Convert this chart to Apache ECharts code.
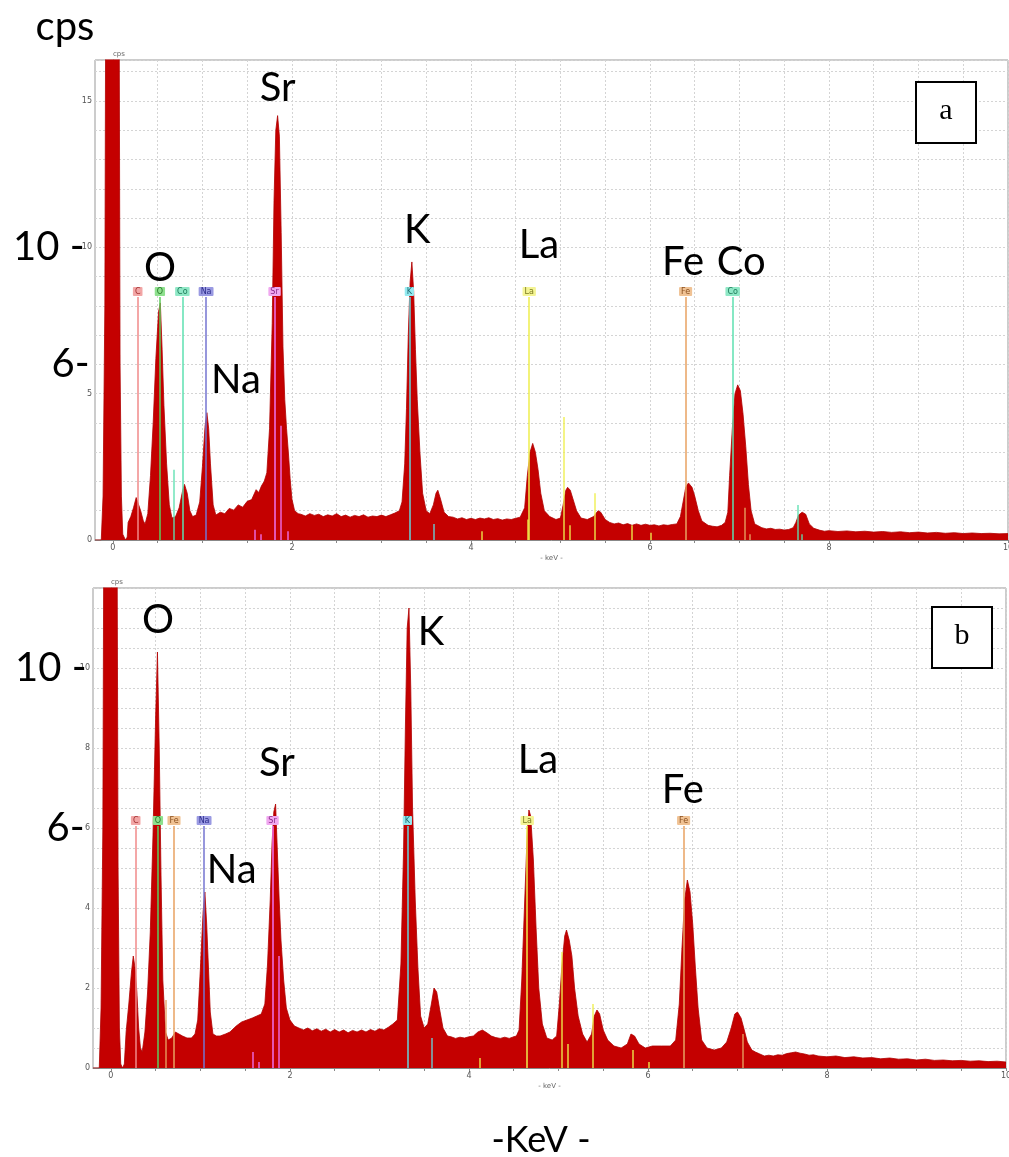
<!DOCTYPE html>
<html><head><meta charset="utf-8">
<script src="https://cdn.jsdelivr.net/npm/echarts@6/dist/echarts.min.js"></script>
<style>html,body{margin:0;padding:0;background:#fff}#c{width:1009px;height:1157px}</style>
</head><body><div id="c"></div>
<script>
// ---------- Spectrum (a) ----------
const energyA = [-0.2,-0.13,-0.11,-0.09,-0.07,-0.04,0,0.04,0.06,0.08,0.095,0.11,0.14,0.16,0.17,0.2,0.23,0.26,0.28,0.31,0.34,0.36,0.39,0.42,0.45,0.48,0.51,0.53,0.55,0.57,0.6,0.63,0.66,0.7,0.74,0.78,0.8,0.83,0.86,0.89,0.93,0.97,1,1.03,1.05,1.07,1.09,1.12,1.15,1.2,1.25,1.3,1.35,1.4,1.45,1.5,1.55,1.6,1.63,1.66,1.69,1.72,1.75,1.78,1.8,1.82,1.84,1.86,1.88,1.9,1.92,1.94,1.96,1.98,2,2.03,2.07,
2.1,2.15,2.2,2.25,2.3,2.35,2.4,2.45,2.5,2.55,2.6,2.65,2.7,2.75,2.8,2.85,2.9,2.95,3,3.05,3.1,3.15,
3.2,3.23,3.26,3.28,3.3,3.32,3.34,3.36,3.38,3.4,3.43,3.46,3.5,3.54,3.58,3.61,3.63,3.66,3.7,3.75,
3.8,3.85,3.9,3.95,4,4.05,4.1,4.15,4.2,4.25,4.3,4.35,4.4,4.45,4.5,
4.55,4.6,4.63,4.66,4.69,4.72,4.75,4.78,4.82,4.88,4.95,5,5.03,5.06,5.08,5.11,5.14,5.18,5.23,5.3,5.37,5.42,5.45,5.5,
5.55,5.6,5.65,5.7,5.75,5.8,5.85,5.9,5.95,6,6.05,6.1,6.15,6.2,6.25,
6.3,6.34,6.37,6.4,6.43,6.47,6.5,6.54,6.58,6.65,6.7,6.75,6.8,6.84,6.87,6.89,6.92,6.95,6.98,7.01,7.04,7.07,7.1,7.13,7.17,7.25,7.3,7.35,7.4,7.45,7.5,7.55,7.6,7.63,7.66,7.7,7.74,7.78,7.83,
7.9,7.95,8,8.1,8.2,8.3,8.4,8.5,8.6,8.7,8.8,8.9,9,9.1,9.2,9.3,9.4,9.5,9.6,9.7,9.8,9.9,10];
const countsA = [0,0,1.5,8,30,80,100,80,30,6,1.5,0.2,0,0.1,0.6,0.8,1.1,1.45,1.4,1.0,0.65,0.55,0.9,2.2,4.0,6.2,7.8,8.1,6.5,4.6,2.6,1.2,0.75,0.8,1.1,1.7,1.9,1.6,1.0,0.8,0.85,1.3,2.5,3.9,4.35,3.8,2.6,1.2,0.85,0.95,0.9,1.08,1.02,1.2,1.12,1.32,1.38,1.72,1.62,1.85,2.0,2.3,3.8,7.4,11.6,14.0,14.5,13.8,10.5,6.6,4.8,3.8,3.0,2.1,1.4,1.0,0.9,
0.88,0.82,0.9,0.84,0.88,0.8,0.86,0.82,0.9,0.8,0.85,0.78,0.84,0.8,0.86,0.78,0.82,0.8,0.85,0.8,0.86,0.92,
1.0,1.3,2.6,4.5,7.0,8.8,9.5,8.5,6.5,4.8,3.0,1.6,1.0,0.9,1.2,1.6,1.7,1.4,0.95,0.8,
0.78,0.72,0.76,0.7,0.74,0.7,0.75,0.72,0.76,0.7,0.73,0.68,0.72,0.7,0.74,
0.78,1.1,2.2,3.0,3.3,3.0,2.4,1.6,1.0,0.8,0.7,0.75,1.2,1.7,1.8,1.7,1.4,1.0,0.75,0.7,0.8,1.0,0.95,0.7,
0.6,0.55,0.58,0.52,0.56,0.5,0.55,0.5,0.54,0.5,0.52,0.48,0.52,0.5,0.53,
0.55,0.8,1.3,1.8,1.95,1.8,1.5,1.0,0.65,0.5,0.47,0.45,0.5,0.6,0.95,2.2,3.8,5.0,5.3,5.1,4.3,3.2,1.9,1.0,0.55,0.42,0.38,0.4,0.36,0.37,0.34,0.36,0.42,0.6,0.85,0.95,0.88,0.55,0.4,
0.33,0.3,0.32,0.29,0.31,0.28,0.3,0.27,0.29,0.26,0.28,0.25,0.27,0.24,0.26,0.23,0.25,0.22,0.24,0.22,0.23,0.21,0.22];

// ---------- Spectrum (b) ----------
const energyB = [-0.2,-0.13,-0.11,-0.09,-0.07,-0.04,0,0.04,0.06,0.08,0.095,0.11,0.13,0.15,0.17,0.2,0.23,0.25,0.27,0.29,0.31,0.33,0.35,0.38,0.41,0.44,0.47,0.5,0.52,0.54,0.56,0.58,0.61,0.64,0.68,0.72,0.76,0.8,0.85,0.9,0.94,0.97,1,1.03,1.05,1.07,1.09,1.11,1.14,1.18,1.22,1.28,1.33,1.4,1.46,1.52,1.58,1.63,1.68,1.72,1.75,1.78,1.8,1.82,1.84,1.86,1.88,1.9,1.93,1.96,2,2.05,
2.1,2.15,2.2,2.25,2.3,2.35,2.4,2.45,2.5,2.55,2.6,2.65,2.7,2.75,2.8,2.85,2.9,2.95,3,3.05,3.1,3.15,
3.2,3.24,3.27,3.29,3.31,3.33,3.35,3.37,3.4,3.43,3.46,3.5,3.54,3.58,3.61,3.64,3.67,3.71,3.76,
3.8,3.85,3.9,3.95,4,4.05,4.1,4.15,4.2,4.25,4.3,4.35,4.4,4.45,4.5,4.53,
4.56,4.59,4.62,4.65,4.67,4.69,4.72,4.75,4.78,4.82,4.87,4.93,4.98,5.01,5.04,5.07,5.09,5.12,5.15,5.18,5.22,5.27,5.32,5.37,5.4,5.43,5.46,5.5,5.55,5.62,5.7,5.77,5.81,5.85,5.9,5.97,6.05,6.15,6.25,6.31,
6.35,6.38,6.41,6.44,6.47,6.5,6.53,6.56,6.6,6.66,6.74,6.82,6.88,6.93,6.97,7,7.04,7.07,7.11,7.16,
7.2,7.25,7.3,7.35,7.4,7.45,7.5,7.55,7.6,7.65,7.7,7.75,7.8,7.85,7.9,
8,8.1,8.2,8.3,8.4,8.5,8.6,8.7,8.8,8.9,9,9.1,9.2,9.3,9.4,9.5,9.6,9.7,9.8,9.9,10];
const countsB = [0,0,1.5,6,20,60,80,60,20,5,1,0.1,0,0.1,0.9,1.6,2.4,2.8,2.5,1.9,1.0,0.5,0.4,0.9,1.9,3.4,5.8,8.8,10.4,8.0,4.8,2.2,0.9,0.7,0.75,0.9,0.85,0.8,0.75,0.75,0.85,1.2,2.5,3.9,4.4,3.6,2.5,1.4,0.85,0.8,0.8,0.85,0.9,1.05,1.15,1.2,1.25,1.3,1.35,1.6,2.6,4.2,5.6,6.4,6.6,5.4,4.2,3.2,2.2,1.5,1.2,1.05,
1.0,0.95,1.0,0.93,0.98,0.92,0.97,0.9,0.96,0.9,0.95,0.88,0.94,0.9,0.95,0.9,0.96,0.92,0.98,0.95,1.02,1.1,
1.2,2.6,5.5,8.5,11.0,11.5,9.5,6.5,4.2,2.5,1.3,1.0,1.1,1.6,2.0,1.9,1.5,1.0,0.8,
0.78,0.74,0.77,0.75,0.78,0.8,0.9,0.95,0.88,0.8,0.76,0.74,0.77,0.74,0.78,0.8,
0.95,2.2,4.0,5.8,6.45,6.3,5.2,3.5,2.0,1.1,0.75,0.7,0.8,1.6,2.6,3.3,3.45,3.2,2.8,2.0,1.3,0.85,0.65,0.85,1.3,1.45,1.35,0.95,0.7,0.55,0.5,0.6,0.85,0.8,0.6,0.5,0.55,0.55,0.55,0.7,
1.6,3.0,4.2,4.7,4.4,3.6,2.5,1.5,0.7,0.5,0.45,0.5,0.65,1.0,1.35,1.4,1.25,1.0,0.65,0.45,
0.4,0.35,0.3,0.32,0.3,0.33,0.32,0.36,0.38,0.4,0.37,0.35,0.32,0.33,0.3,
0.28,0.3,0.26,0.28,0.25,0.26,0.23,0.25,0.22,0.23,0.2,0.22,0.19,0.2,0.18,0.19,0.17,0.18,0.16,0.17,0.15];

// ---------- Element identification lines ----------
const elementsA = ['C','O','Co','Na','Sr','K','La','Fe','Co'];
const elementEnergiesA = [0.277,0.525,0.776,1.041,1.806,3.312,4.651,6.398,6.924];
const elementsB = ['C','O','Fe','Na','Sr','K','La','Fe'];
const elementEnergiesB = [0.277,0.525,0.705,1.041,1.806,3.312,4.651,6.398];

const minorElementsA = ['Co','Sr','Sr','Sr','Sr','K','La','La','La','La','La','La','La','Fe','Fe','Co','Co'];
const minorEnergiesA = [0.678,1.58,1.65,1.872,1.95,3.59,4.12,4.63,5.04,5.10,5.38,5.80,6.01,7.06,7.11,7.65,7.70];
const minorHeightsA  = [2.4,0.35,0.2,3.9,0.3,0.55,0.3,0.7,4.2,0.5,1.6,0.5,0.25,1.1,0.2,1.2,0.2];
const minorElementsB = ['Fe','Sr','Sr','Sr','K','La','La','La','La','La','La','Fe'];
const minorEnergiesB = [0.61,1.58,1.65,1.872,3.59,4.12,5.04,5.10,5.38,5.83,6.01,7.06];
const minorHeightsB  = [1.7,0.4,0.15,2.8,0.75,0.25,2.9,0.6,1.6,0.45,0.15,0.85];

// ---------- Big annotation labels ----------
const bigLabelsA = ['Sr','O','Na','K','La','Fe','Co'];
const bigLabelsB = ['O','K','Sr','Na','La','Fe'];

// ---------- Axis ticks / labels ----------
const xTickValues = [0,0.5,1,1.5,2,2.5,3,3.5,4,4.5,5,5.5,6,6.5,7,7.5,8,8.5,9,9.5,10];
const xLabelValues = [0,2,4,6,8,10];
const yLabelStepA = 5;
const yLabelStepB = 2;

// ---------- styling ----------
const elemStyle = {
  C:  {line:'#f08a8a', bg:'#f2a6a6', fg:'#a03030'},
  O:  {line:'#5ccc5c', bg:'#8ee08e', fg:'#2a7a2a'},
  Co: {line:'#5ee0b0', bg:'#8fe8c6', fg:'#1f7a5a'},
  Na: {line:'#7474d0', bg:'#9a9ae2', fg:'#2a2a8a'},
  Sr: {line:'#f070f0', bg:'#f0a8f0', fg:'#8a2a8a'},
  K:  {line:'#66d4dc', bg:'#94eaf0', fg:'#1f6a70'},
  La: {line:'#eeee4c', bg:'#f4f494', fg:'#7a7a20'},
  Fe: {line:'#e8a262', bg:'#f0c294', fg:'#8a5020'}
};
const bigFont = 'Lato, "Open Sans", sans-serif';

const annotA = [
  {t:bigLabelsA[0], c:[1.84,15.43]}, {t:bigLabelsA[1], c:[0.525,9.28]}, {t:bigLabelsA[2], c:[1.374,5.46]},
  {t:bigLabelsA[3], c:[3.40,10.58]}, {t:bigLabelsA[4], c:[4.76,10.07]}, {t:bigLabelsA[5], c:[6.37,9.49]}, {t:bigLabelsA[6], c:[7.02,9.49]}
];
const annotB = [
  {t:bigLabelsB[0], c:[0.525,11.2]}, {t:bigLabelsB[1], c:[3.575,10.9]}, {t:bigLabelsB[2], c:[1.855,7.63]},
  {t:bigLabelsB[3], c:[1.35,4.95]}, {t:bigLabelsB[4], c:[4.77,7.7]}, {t:bigLabelsB[5], c:[6.39,6.95]}
];

function zip(xs, ys){ const n=Math.min(xs.length, ys.length); const o=[]; for(let i=0;i<n;i++) o.push([xs[i],ys[i]]); return o; }

function majorLines(names, energies, top){
  return names.map((n,i)=>{
    const s = elemStyle[n];
    return [
      {coord:[energies[i],0], lineStyle:{color:s.line, width:1.5, type:'solid'}},
      {coord:[energies[i],top], label:{show:true, position:'end', distance:1, formatter:n,
        fontSize:8, fontFamily:'DejaVu Sans, sans-serif', color:s.fg, backgroundColor:s.bg,
        padding:[1,2,0,2], borderRadius:1}}
    ];
  });
}
function minorLines(names, energies, heights){
  return names.map((n,i)=>{
    const s = elemStyle[n];
    return [
      {coord:[energies[i],0], lineStyle:{color:s.line, width:1.5, type:'solid', opacity:0.9}},
      {coord:[energies[i],heights[i]]}
    ];
  });
}
function bigMarks(annots, sideLabels){
  const pts = annots.map(a=>({coord:a.c, symbol:'circle', symbolSize:1,
    itemStyle:{color:'rgba(0,0,0,0)'},
    label:{show:true, position:'inside', formatter:a.t, fontSize:40, fontFamily:bigFont, color:'#000'}}));
  sideLabels.forEach(s=>pts.push({coord:[-0.2,s.v], symbol:'circle', symbolSize:1,
    itemStyle:{color:'rgba(0,0,0,0)'},
    label:{show:true, position:'left', distance:s.d, formatter:s.t, fontSize:40, fontFamily:bigFont, color:'#000'}}));
  return pts;
}

function xAxisCfg(gi){
  return {
    type:'value', gridIndex:gi, min:-0.2, max:10,
    name:'- keV -', nameLocation:'middle', nameGap:15,
    nameTextStyle:{fontSize:7, color:'#666', fontFamily:'DejaVu Sans, sans-serif'},
    axisLine:{show:true, onZero:false, lineStyle:{color:'#888', width:1}},
    axisTick:{show:true, customValues:xTickValues, length:3, lineStyle:{color:'#888'}},
    axisLabel:{show:true, customValues:xLabelValues, fontSize:8, color:'#555', margin:4, fontFamily:'DejaVu Sans, sans-serif'},
    splitLine:{show:true, lineStyle:{color:'#d4d4d4', type:[2,2], width:1}}
  };
}
function yAxisCfg(gi, max, interval, step){
  return {
    type:'value', gridIndex:gi, min:0, max:max, interval:interval,
    name:'cps', nameLocation:'end', nameGap:2,
    nameTextStyle:{fontSize:7, color:'#666', align:'left', fontFamily:'DejaVu Sans, sans-serif'},
    axisLine:{show:true, lineStyle:{color:'#888', width:1}},
    axisTick:{show:true, length:4, lineStyle:{color:'#888'}},
    axisLabel:{fontSize:8, color:'#555', margin:3, fontFamily:'DejaVu Sans, sans-serif',
      formatter:v=> (Math.abs(v/step - Math.round(v/step))<1e-6 && v<=max-0.5) ? String(v) : ''},
    splitLine:{show:true, lineStyle:{color:'#d4d4d4', type:[2,2], width:1}}
  };
}

const red = '#c40000';
const option = {
  animation:false,
  backgroundColor:'#fff',
  grid:[
    {left:95, top:60, width:913, height:480, show:true, borderColor:'#999', borderWidth:1, backgroundColor:'#fff', outerBoundsMode:'none', containLabel:false},
    {left:93, top:588, width:913, height:480, show:true, borderColor:'#999', borderWidth:1, backgroundColor:'#fff', outerBoundsMode:'none', containLabel:false}
  ],
  xAxis:[xAxisCfg(0), xAxisCfg(1)],
  yAxis:[yAxisCfg(0, 16.4, 1, yLabelStepA), yAxisCfg(1, 12, 0.5, yLabelStepB)],
  series:[
    {type:'line', xAxisIndex:0, yAxisIndex:0, data:zip(energyA,countsA), showSymbol:false, symbol:'none',
      lineStyle:{color:'#b00000', width:0.8}, areaStyle:{color:red, opacity:1}, z:2,
      markLine:{silent:true, symbol:['none','none'], data:majorLines(elementsA, elementEnergiesA, 8.3)},
      markPoint:{silent:true, data:bigMarks(annotA, [{v:10,t:'10 -',d:10},{v:6,t:'6-',d:5}])}},
    {type:'line', xAxisIndex:0, yAxisIndex:0, data:[], z:3,
      markLine:{silent:true, symbol:['none','none'], label:{show:false}, data:minorLines(minorElementsA, minorEnergiesA, minorHeightsA)}},
    {type:'line', xAxisIndex:1, yAxisIndex:1, data:zip(energyB,countsB), showSymbol:false, symbol:'none',
      lineStyle:{color:'#b00000', width:0.8}, areaStyle:{color:red, opacity:1}, z:2,
      markLine:{silent:true, symbol:['none','none'], data:majorLines(elementsB, elementEnergiesB, 6.05)},
      markPoint:{silent:true, data:bigMarks(annotB, [{v:10,t:'10 -',d:6},{v:6,t:'6-',d:8}])}},
    {type:'line', xAxisIndex:1, yAxisIndex:1, data:[], z:3,
      markLine:{silent:true, symbol:['none','none'], label:{show:false}, data:minorLines(minorElementsB, minorEnergiesB, minorHeightsB)}}
  ],
  graphic:[
    {type:'text', x:65, y:27, style:{text:'cps', fontSize:40, fontFamily:bigFont, fill:'#000', textAlign:'center', textVerticalAlign:'middle'}},
    {type:'text', x:541, y:1140, style:{text:'-KeV -', fontSize:36, fontFamily:bigFont, fill:'#000', textAlign:'center', textVerticalAlign:'middle'}},
    {type:'rect', shape:{x:916, y:82, width:60, height:61}, style:{fill:'#fff', stroke:'#000', lineWidth:2}, z:100},
    {type:'text', x:946, y:111, style:{text:'a', fontSize:30, fontFamily:'"Liberation Serif", serif', fill:'#000', textAlign:'center', textVerticalAlign:'middle'}, z:101},
    {type:'rect', shape:{x:932, y:607, width:60, height:61}, style:{fill:'#fff', stroke:'#000', lineWidth:2}, z:100},
    {type:'text', x:962, y:636, style:{text:'b', fontSize:30, fontFamily:'"Liberation Serif", serif', fill:'#000', textAlign:'center', textVerticalAlign:'middle'}, z:101}
  ]
};
const chart = echarts.init(document.getElementById('c'), null, {renderer:'canvas'});
chart.setOption(option);
</script>
</body></html>
